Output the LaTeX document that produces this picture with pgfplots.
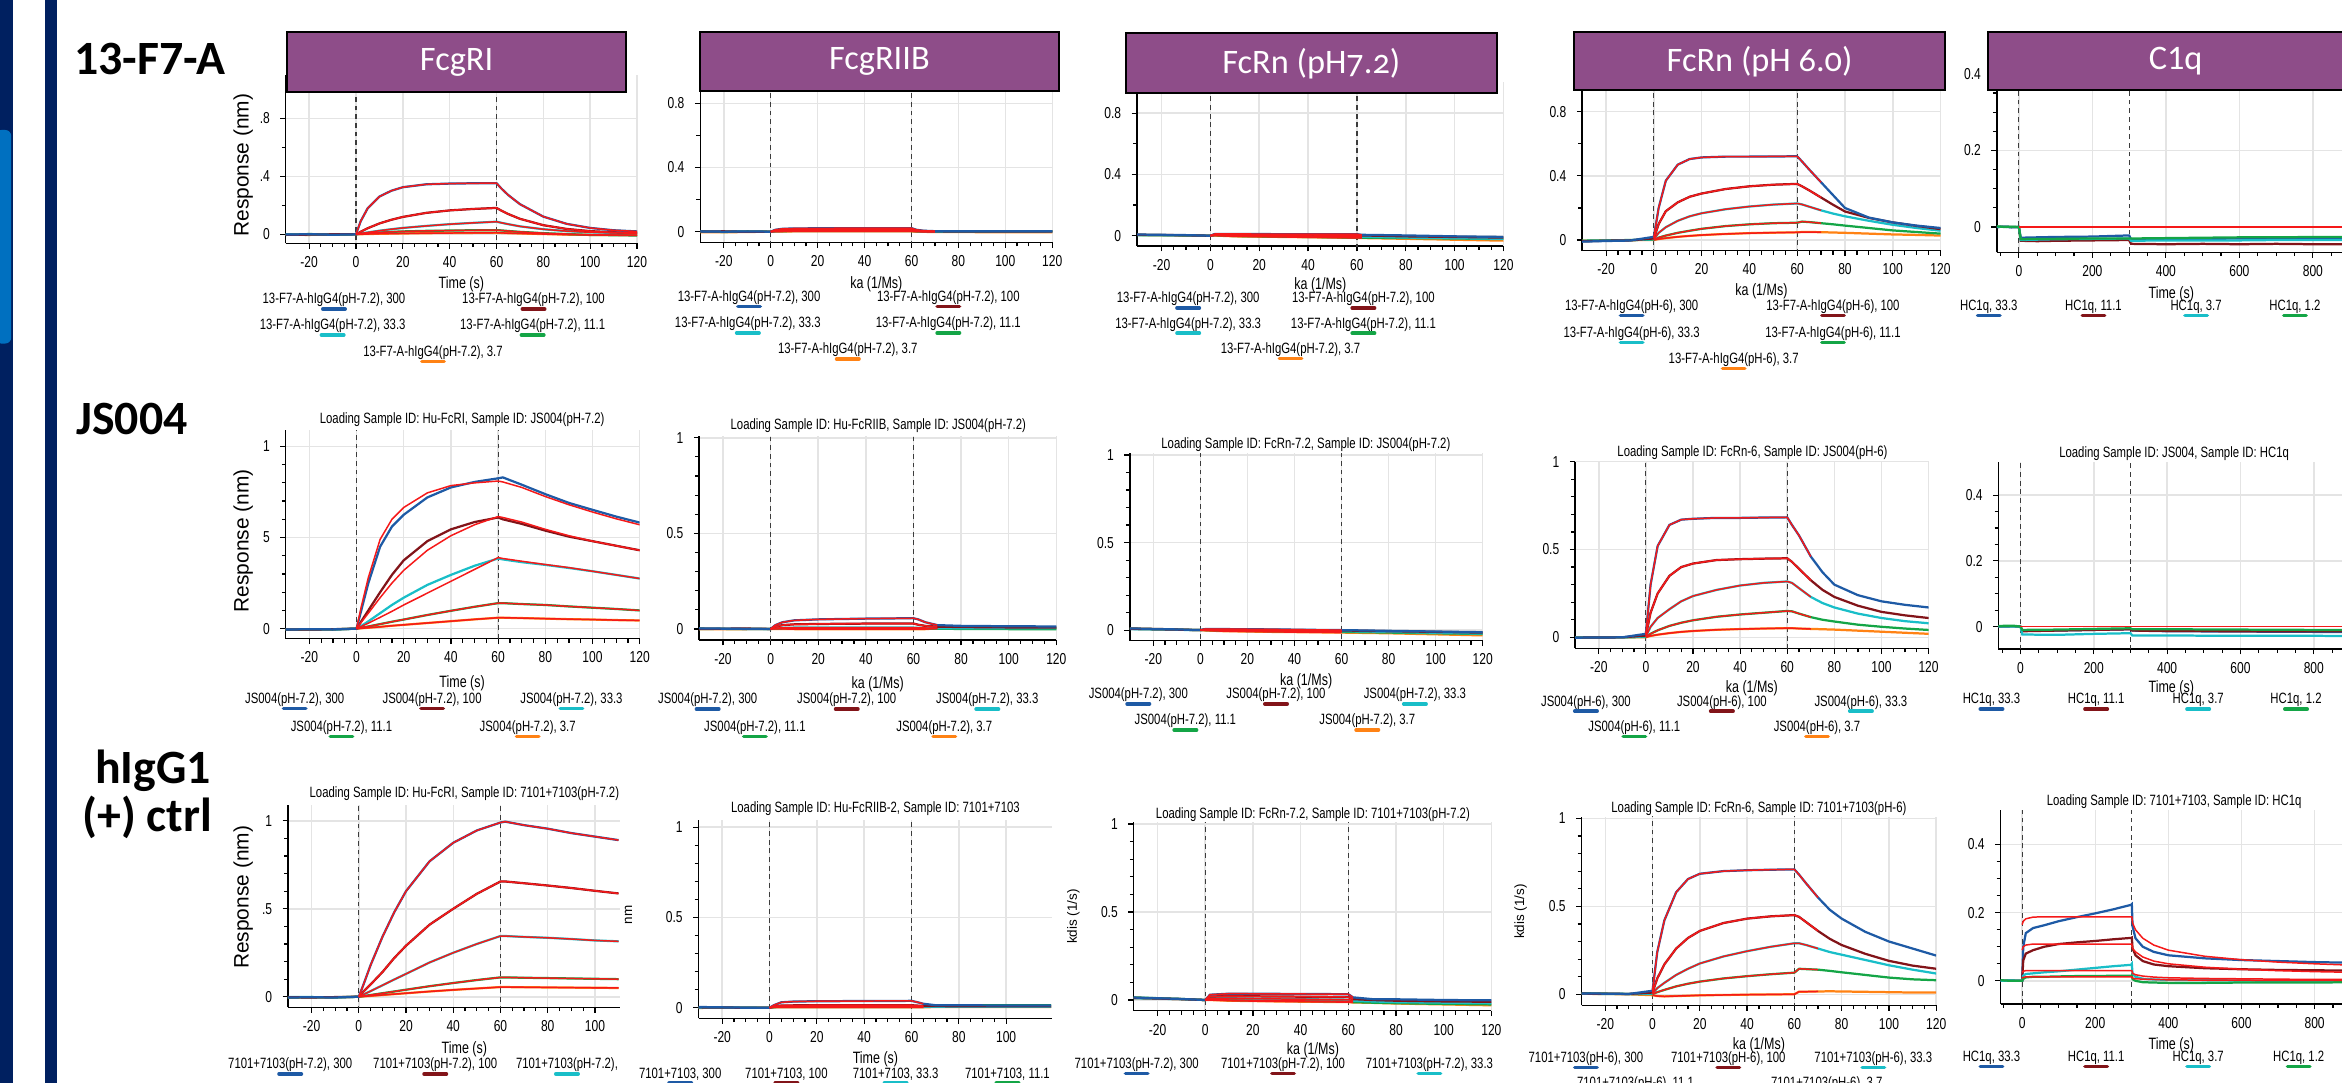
\documentclass[border=0pt]{standalone}
\usepackage{fontspec}
\usepackage{pgfplots}
\usepackage{pgfplotstable}
\pgfplotsset{compat=1.18}
\setmainfont{Liberation Sans}
\newfontfamily\nar[FakeStretch=0.76]{Liberation Sans}
\newfontfamily\carl{Carlito}
\newfontfamily\carlo[Numbers=OldStyle]{Carlito}
\definecolor{sblue}{RGB}{30,90,165}
\definecolor{sdred}{RGB}{130,20,25}
\definecolor{scyan}{RGB}{25,190,200}
\definecolor{sgreen}{RGB}{20,165,70}
\definecolor{sorange}{RGB}{255,130,20}
\definecolor{sfit}{RGB}{245,25,25}
\definecolor{hpurple}{RGB}{142,77,137}
\definecolor{navy}{RGB}{0,32,96}
\definecolor{lblue}{RGB}{0,112,192}
\definecolor{gridg}{RGB}{228,228,228}
\definecolor{dashg}{RGB}{60,60,60}

\pgfplotsset{
  bli/.style={scale only axis, anchor=south west, axis x line*=bottom, axis y line*=left,
    axis line style={black,line width=0.5pt},
    tick align=outside, major tick length=1.8pt, minor tick length=1.3pt,
    tick style={black,line width=0.4pt},
    xmajorgrids, ymajorgrids, grid style={gridg,line width=0.5pt},
    tick label style={font=\nar\fontsize{5.3}{6}\selectfont},
    xticklabel style={yshift=0.9pt},
    /pgf/number format/assume math mode=true,
    /pgf/number format/1000 sep={},
    minor x tick num=3},
  kin/.style={bli, xmin=-30, xmax=120, xtick={-20,0,...,120}},
  kin1/.style={kin, ytick={0,0.4,0.8}, minor y tick num=1},
  kinr/.style={kin, ytick={0,0.5,1}, minor y tick num=4},
  cq/.style={bli, xmin=-60, xmax=1000, xtick={0,200,...,800}, ytick={0,0.2,0.4}, minor y tick num=3, ymax=0.5,
    extra x ticks={-50,850,900,950}, extra x tick labels={}, extra x tick style={grid=none, major tick length=1.3pt}},
  dl/.style={line width=0.75pt, mark=none},
  fl/.style={color=sfit, line width=0.5pt, mark=none},
  dashv/.style={color=dashg, line width=0.4pt, dash pattern=on 1.6pt off 1.3pt, mark=none},
}
\tikzset{
  lgf/.style={font=\nar\fontsize{5}{6}\selectfont, inner sep=0pt},
  xlf/.style={font=\nar\fontsize{5.5}{6.5}\selectfont, inner sep=0pt},
}
\newcommand{\legE}[4]{\node[lgf] at (#1,#2) {#4};
  \draw[#3, line width=1.2pt, line cap=round] ({#1-7.5},{#2+6}) -- ({#1+7.5},{#2+6});}
\newcommand{\hdrbox}[5]{\filldraw[fill=hpurple,draw=black,line width=0.7pt] (#1,#2) rectangle (#3,#4);
  \node[text=white,font=\carl\fontsize{11.5}{13}\selectfont] at ({(#1+#3)/2},{(#2+#4)/2}) {#5};}
\newcommand{\dashes}[2]{\addplot[dashv] coordinates {(#1,-5) (#1,5)};
  \addplot[dashv] coordinates {(#2,-5) (#2,5)};}
\newcommand{\five}[1]{%
  \addplot[sorange,dl] table[x=t,y=e]{#1};
  \addplot[sgreen,dl] table[x=t,y=d]{#1};
  \addplot[scyan,dl] table[x=t,y=c]{#1};
  \addplot[sdred,dl] table[x=t,y=b]{#1};
  \addplot[sblue,dl] table[x=t,y=a]{#1};}
\newcommand{\fivefit}[2]{%
  \addplot[fl,restrict x to domain=0:#2] table[x=t,y=e]{#1};
  \addplot[fl,restrict x to domain=0:#2] table[x=t,y=d]{#1};
  \addplot[fl,restrict x to domain=0:#2] table[x=t,y=c]{#1};
  \addplot[fl,restrict x to domain=0:#2] table[x=t,y=b]{#1};
  \addplot[fl,restrict x to domain=0:#2] table[x=t,y=a]{#1};}
\newcommand{\four}[1]{%
  \addplot[sblue,dl] table[x=t,y=a]{#1};
  \addplot[sdred,dl] table[x=t,y=b]{#1};
  \addplot[scyan,dl] table[x=t,y=c]{#1};
  \addplot[sgreen,dl] table[x=t,y=d]{#1};}

% ---------------- data: row 1 (13-F7-A) ----------------
\pgfplotstableread[row sep=\\]{
t a b c d e\\
-30 -0.002 -0.003 0.000 -0.004 -0.003\\
-20 0.001 -0.002 -0.001 0.002 -0.004\\
-10 -0.003 0.000 0.001 -0.002 -0.001\\
0 0 0 0 0 0\\
2 0.09 0.018 0.006 0.004 0.001\\
5 0.18 0.042 0.013 0.008 0.002\\
10 0.26 0.075 0.025 0.013 0.004\\
15 0.30 0.100 0.035 0.017 0.005\\
20 0.325 0.120 0.044 0.020 0.006\\
30 0.345 0.148 0.058 0.024 0.008\\
40 0.350 0.165 0.070 0.026 0.009\\
50 0.352 0.175 0.079 0.028 0.010\\
60 0.353 0.182 0.087 0.029 0.011\\
62 0.317 0.164 0.080 0.027 0.010\\
65 0.271 0.140 0.070 0.023 0.008\\
70 0.208 0.107 0.055 0.017 0.006\\
80 0.122 0.063 0.035 0.008 0.002\\
90 0.072 0.037 0.022 0.002 -0.002\\
100 0.044 0.022 0.014 -0.004 -0.004\\
110 0.028 0.014 0.010 -0.006 -0.005\\
120 0.020 0.010 0.008 -0.008 -0.005\\
}\TaA
\pgfplotstableread[row sep=\\]{
t a b c d e\\
-30 0.002 0.001 -0.001 0.003 -0.003\\
-20 0.000 0.002 0.002 -0.002 -0.004\\
-10 0.001 -0.001 0.000 0.002 -0.002\\
0 0 0 0 0 0\\
2 0.012 0.008 0.004 0.002 0.001\\
5 0.018 0.012 0.006 0.003 0.001\\
10 0.020 0.014 0.007 0.004 0.002\\
20 0.021 0.015 0.008 0.004 0.002\\
40 0.022 0.016 0.008 0.004 0.002\\
60 0.022 0.016 0.008 0.004 0.002\\
62 0.012 0.008 0.004 0.002 0.000\\
65 0.006 0.004 0.002 0.001 -0.001\\
70 0.003 0.002 0.001 0.000 -0.002\\
90 0.002 0.001 0.001 0.000 -0.003\\
120 0.002 0.001 0.001 0.002 -0.003\\
}\TaB
\pgfplotstableread[row sep=\\]{
t a b c d e\\
-30 0.008 0.006 0.005 0.004 0.006\\
-20 0.006 0.005 0.004 0.003 0.004\\
-10 0.004 0.003 0.003 0.002 0.002\\
0 0 0 0 0 0\\
2 0.012 0.010 0.006 0.003 0.001\\
10 0.012 0.008 0.004 -0.002 -0.004\\
30 0.010 0.006 0.000 -0.006 -0.008\\
50 0.010 0.004 -0.003 -0.010 -0.012\\
60 0.010 0.004 -0.004 -0.012 -0.014\\
62 0.006 0.002 -0.006 -0.013 -0.015\\
80 0.002 -0.004 -0.012 -0.015 -0.020\\
100 -0.004 -0.008 -0.016 -0.018 -0.026\\
120 -0.008 -0.012 -0.020 -0.022 -0.032\\
}\TaC
\pgfplotstableread[row sep=\\]{
t a b c d e\\
-30 -0.010 -0.008 -0.006 -0.004 -0.005\\
-20 -0.006 -0.004 -0.003 -0.002 -0.003\\
-10 -0.003 -0.002 -0.001 0.000 -0.001\\
0 0.02 0.01 0.005 0.003 0.001\\
2 0.20 0.10 0.045 0.015 0.006\\
5 0.37 0.18 0.08 0.028 0.012\\
10 0.47 0.235 0.12 0.045 0.020\\
15 0.505 0.27 0.148 0.058 0.026\\
20 0.515 0.29 0.167 0.070 0.031\\
30 0.52 0.318 0.192 0.087 0.038\\
40 0.52 0.335 0.209 0.098 0.043\\
50 0.521 0.345 0.221 0.105 0.046\\
60 0.522 0.35 0.228 0.108 0.048\\
62 0.49 0.335 0.222 0.115 0.050\\
65 0.44 0.31 0.208 0.112 0.050\\
70 0.36 0.265 0.185 0.105 0.049\\
75 0.28 0.22 0.165 0.098 0.047\\
80 0.20 0.178 0.148 0.090 0.045\\
90 0.14 0.138 0.12 0.075 0.040\\
100 0.11 0.11 0.095 0.060 0.035\\
110 0.09 0.088 0.075 0.050 0.032\\
120 0.075 0.068 0.058 0.040 0.028\\
}\TaD
\pgfplotstableread[row sep=\\]{
t a b c d\\
-60 0.000 0.000 0.000 0.002\\
-40 0.001 0.001 0.001 0.000\\
-20 -0.001 0.000 0.000 0.001\\
0 0 0 0 0\\
5 -0.028 -0.036 -0.034 -0.032\\
50 -0.027 -0.037 -0.033 -0.031\\
100 -0.026 -0.036 -0.032 -0.031\\
200 -0.025 -0.035 -0.031 -0.030\\
300 -0.022 -0.034 -0.030 -0.030\\
305 -0.032 -0.044 -0.036 -0.030\\
400 -0.031 -0.045 -0.035 -0.029\\
500 -0.031 -0.044 -0.035 -0.028\\
600 -0.030 -0.045 -0.035 -0.027\\
700 -0.030 -0.044 -0.034 -0.027\\
800 -0.030 -0.045 -0.034 -0.026\\
1000 -0.030 -0.045 -0.034 -0.026\\
}\TaE
% ---------------- data: row 2 (JS004) ----------------
\pgfplotstableread[row sep=\\]{
t a b c d e fa fb fc\\
-30 -0.005 -0.004 -0.003 -0.006 -0.005 0 0 0\\
-20 -0.003 -0.005 -0.004 -0.003 -0.006 0 0 0\\
-10 -0.004 -0.003 -0.005 -0.004 -0.004 0 0 0\\
0 0 0 0 0 0 0 0 0\\
2 0.10 0.04 0.015 0.005 0.002 0.12 0.035 0.012\\
5 0.25 0.10 0.04 0.012 0.005 0.28 0.085 0.03\\
10 0.45 0.20 0.085 0.025 0.01 0.49 0.17 0.062\\
15 0.56 0.295 0.13 0.038 0.016 0.60 0.25 0.095\\
20 0.625 0.375 0.17 0.05 0.021 0.665 0.32 0.13\\
30 0.72 0.48 0.24 0.075 0.031 0.745 0.43 0.195\\
40 0.775 0.545 0.295 0.098 0.041 0.785 0.51 0.26\\
50 0.805 0.585 0.345 0.12 0.051 0.80 0.57 0.325\\
60 0.825 0.61 0.385 0.14 0.06 0.81 0.615 0.39\\
62 0.83 0.60 0.38 0.14 0.06 0.805 0.61 0.385\\
70 0.79 0.575 0.365 0.135 0.058 0.775 0.585 0.37\\
80 0.738 0.538 0.35 0.13 0.055 0.725 0.545 0.352\\
90 0.69 0.505 0.333 0.122 0.052 0.68 0.51 0.335\\
100 0.652 0.48 0.315 0.115 0.05 0.64 0.48 0.315\\
110 0.615 0.455 0.295 0.108 0.047 0.603 0.455 0.295\\
120 0.582 0.43 0.275 0.10 0.045 0.57 0.43 0.275\\
}\TbA
\pgfplotstableread[row sep=\\]{
t a b c d e\\
-30 0.003 0.001 0.000 0.002 -0.002\\
-10 0.000 0.002 0.001 -0.001 -0.001\\
0 0 0 0 0 0\\
2 0.02 0.012 0.004 0.002 0.000\\
5 0.035 0.02 0.006 0.003 0.000\\
10 0.045 0.024 0.007 0.003 -0.001\\
20 0.05 0.026 0.007 0.004 -0.001\\
40 0.054 0.028 0.007 0.004 -0.001\\
60 0.056 0.028 0.007 0.004 -0.001\\
62 0.05 0.022 0.006 0.003 -0.001\\
65 0.035 0.016 0.005 0.002 -0.001\\
70 0.02 0.012 0.004 0.001 0.003\\
80 0.016 0.010 0.004 0.000 0.004\\
100 0.014 0.008 0.003 -0.001 0.003\\
120 0.013 0.008 0.003 -0.002 0.003\\
}\TbB
\pgfplotstableread[row sep=\\]{
t a b c d e\\
-30 0.01 0.008 0.006 0.008 0.01\\
-10 0.004 0.003 0.002 0.003 0.004\\
0 0 0 0 0 0\\
2 0.006 0.005 0.003 0.000 -0.002\\
10 0.006 0.004 0.000 -0.003 -0.006\\
30 0.004 0.002 -0.003 -0.006 -0.010\\
60 0.000 -0.002 -0.006 -0.010 -0.014\\
80 -0.004 -0.006 -0.010 -0.014 -0.018\\
100 -0.008 -0.010 -0.015 -0.018 -0.024\\
120 -0.012 -0.014 -0.020 -0.022 -0.030\\
}\TbC
\pgfplotstableread[row sep=\\]{
t a b c d e\\
-30 -0.002 -0.002 -0.001 -0.001 -0.002\\
-10 0 0 0 0 0\\
0 0.02 0.01 0.005 0.002 0.001\\
2 0.30 0.14 0.06 0.02 0.008\\
5 0.52 0.25 0.11 0.04 0.015\\
10 0.64 0.35 0.16 0.065 0.024\\
15 0.67 0.40 0.205 0.083 0.031\\
20 0.675 0.42 0.235 0.097 0.036\\
30 0.68 0.44 0.27 0.117 0.043\\
40 0.68 0.445 0.295 0.13 0.047\\
50 0.682 0.448 0.31 0.14 0.05\\
60 0.683 0.45 0.318 0.15 0.052\\
62 0.64 0.43 0.31 0.148 0.052\\
65 0.58 0.39 0.28 0.135 0.05\\
70 0.46 0.325 0.23 0.115 0.048\\
75 0.37 0.27 0.195 0.10 0.046\\
80 0.30 0.23 0.17 0.09 0.044\\
90 0.24 0.18 0.135 0.072 0.038\\
100 0.205 0.145 0.11 0.06 0.032\\
110 0.185 0.125 0.092 0.05 0.026\\
120 0.17 0.11 0.08 0.042 0.02\\
}\TbD
\pgfplotstableread[row sep=\\]{
t a b c d\\
-60 0.000 0.000 0.000 0.002\\
-20 0.001 0.001 0.000 0.003\\
0 0 0 0 0\\
5 -0.012 -0.014 -0.024 -0.010\\
100 -0.012 -0.012 -0.025 -0.009\\
200 -0.010 -0.010 -0.022 -0.007\\
300 -0.008 -0.008 -0.020 -0.005\\
305 -0.012 -0.012 -0.027 -0.008\\
400 -0.014 -0.013 -0.027 -0.008\\
600 -0.015 -0.014 -0.028 -0.009\\
800 -0.016 -0.014 -0.028 -0.010\\
1000 -0.016 -0.015 -0.029 -0.010\\
}\TbE
% ---------------- data: row 3 (7101+7103) ----------------
\pgfplotstableread[row sep=\\]{
t a b c d e\\
-30 -0.004 -0.003 -0.002 -0.005 -0.004\\
-20 -0.003 -0.004 -0.002 -0.002 -0.005\\
-10 -0.004 -0.002 -0.003 -0.004 -0.003\\
0 0 0 0 0 0\\
2 0.07 0.03 0.013 0.004 0.002\\
5 0.18 0.07 0.032 0.01 0.005\\
10 0.34 0.14 0.065 0.02 0.01\\
15 0.48 0.22 0.098 0.03 0.015\\
20 0.60 0.29 0.13 0.04 0.02\\
30 0.77 0.41 0.195 0.06 0.03\\
40 0.875 0.50 0.25 0.078 0.039\\
50 0.945 0.585 0.30 0.095 0.047\\
60 0.99 0.655 0.345 0.11 0.055\\
62 0.995 0.655 0.345 0.11 0.055\\
70 0.975 0.645 0.34 0.108 0.054\\
80 0.955 0.632 0.335 0.106 0.053\\
90 0.93 0.618 0.328 0.104 0.052\\
100 0.91 0.602 0.32 0.102 0.051\\
110 0.89 0.587 0.315 0.10 0.05\\
}\TcA
\pgfplotstableread[row sep=\\]{
t a b c d e\\
-30 0.004 0.002 0.000 0.002 -0.001\\
-10 0 0 0.001 0 0\\
0 0 0 0 0 0\\
2 0.015 0.008 0.005 0.003 0.002\\
5 0.03 0.012 0.007 0.004 0.002\\
10 0.034 0.013 0.008 0.004 0.002\\
20 0.036 0.014 0.008 0.004 0.002\\
40 0.037 0.014 0.008 0.004 0.002\\
60 0.038 0.014 0.008 0.004 0.002\\
62 0.032 0.012 0.007 0.004 0.002\\
65 0.022 0.010 0.006 0.004 0.002\\
70 0.014 0.009 0.006 0.012 0.004\\
90 0.013 0.008 0.006 0.013 0.004\\
119 0.012 0.008 0.006 0.014 0.004\\
}\TcB
\pgfplotstableread[row sep=\\]{
t a b c d e\\
-30 0.014 0.012 0.010 0.015 0.012\\
-10 0.006 0.005 0.005 0.006 0.005\\
0 0 0 0 0 0\\
2 0.03 0.02 0.01 0.004 0.000\\
10 0.036 0.022 0.01 0.000 -0.004\\
30 0.035 0.02 0.006 -0.004 -0.008\\
60 0.033 0.017 0.002 -0.008 -0.012\\
62 0.015 0.005 -0.004 -0.012 -0.014\\
70 0.005 0.000 -0.008 -0.015 -0.016\\
80 0.004 -0.004 -0.012 -0.018 -0.020\\
100 0.000 -0.008 -0.015 -0.022 -0.025\\
120 -0.002 -0.010 -0.018 -0.025 -0.030\\
}\TcC
\pgfplotstableread[row sep=\\]{
t a b c d e\\
-30 0.005 0.004 0.003 0.006 0.003\\
-10 0.002 0.002 0.001 0.002 0.000\\
0 0.02 0.01 0.004 0.002 -0.005\\
2 0.24 0.09 0.035 0.012 -0.010\\
5 0.42 0.17 0.065 0.025 -0.012\\
10 0.58 0.26 0.11 0.045 -0.010\\
15 0.655 0.32 0.145 0.06 -0.008\\
20 0.685 0.36 0.175 0.072 -0.006\\
30 0.70 0.405 0.215 0.09 -0.004\\
40 0.705 0.43 0.245 0.103 -0.002\\
50 0.708 0.443 0.27 0.114 -0.001\\
60 0.71 0.45 0.29 0.123 0.000\\
62 0.68 0.44 0.29 0.145 0.015\\
65 0.63 0.41 0.28 0.143 0.015\\
70 0.55 0.36 0.26 0.14 0.016\\
75 0.48 0.315 0.24 0.133 0.017\\
80 0.43 0.28 0.225 0.125 0.016\\
90 0.355 0.23 0.195 0.11 0.014\\
100 0.30 0.19 0.165 0.095 0.012\\
110 0.26 0.163 0.14 0.085 0.010\\
120 0.22 0.145 0.118 0.08 0.010\\
}\TcD
\pgfplotstableread[row sep=\\]{
t a b c d fa fb fc fd\\
-60 0 0 0 0.002 0 0 0 0\\
-30 0.001 0 0.001 0 0 0 0 0\\
-2 0 0 0 0 0 0 0 0\\
0 0 0 0 0 0.165 0.09 0.025 0.008\\
3 0.10 0.06 0.015 0.006 0.175 0.10 0.028 0.01\\
10 0.14 0.08 0.02 0.01 0.182 0.105 0.03 0.012\\
30 0.155 0.09 0.022 0.012 0.187 0.108 0.03 0.012\\
60 0.163 0.10 0.025 0.012 0.188 0.108 0.03 0.012\\
100 0.175 0.108 0.028 0.013 0.188 0.108 0.03 0.012\\
150 0.187 0.113 0.033 0.014 0.188 0.108 0.03 0.012\\
200 0.198 0.117 0.038 0.014 0.188 0.108 0.03 0.012\\
250 0.21 0.122 0.043 0.015 0.188 0.108 0.03 0.012\\
298 0.223 0.126 0.047 0.015 0.188 0.108 0.03 0.012\\
300 0.225 0.127 0.05 0.015 0.188 0.108 0.03 0.012\\
302 0.16 0.095 0.02 0.005 0.17 0.095 0.022 0.008\\
310 0.125 0.075 0.012 0.000 0.15 0.085 0.018 0.006\\
330 0.10 0.058 0.006 -0.004 0.125 0.07 0.014 0.005\\
360 0.085 0.048 0.004 -0.005 0.105 0.058 0.011 0.004\\
400 0.075 0.043 0.003 -0.006 0.09 0.05 0.009 0.003\\
500 0.066 0.037 0.002 -0.006 0.072 0.04 0.007 0.002\\
600 0.061 0.034 0.001 -0.005 0.062 0.034 0.006 0.002\\
700 0.058 0.032 0.000 -0.005 0.055 0.03 0.005 0.001\\
800 0.055 0.031 0.000 -0.005 0.05 0.027 0.004 0.001\\
900 0.053 0.03 0.000 -0.004 0.046 0.025 0.004 0.001\\
1000 0.051 0.029 0.000 -0.004 0.043 0.023 0.004 0.001\\
}\TcE

\begin{document}
\begin{tikzpicture}[x=0.5pt,y=-0.5pt]
\clip (0,0) rectangle (1568,725);
% left decoration bars
\fill[navy] (0,0) rectangle (8.4,725);
\fill[navy] (29.9,0) rectangle (38.3,725);
\fill[lblue, rounded corners=2pt] (-3,87) rectangle (7.5,230);
% row labels
\node[anchor=base west,inner sep=0pt,font=\carl\bfseries\fontsize{16}{18}\selectfont] at (49.3,50.2) {13-F7-A};
\node[anchor=base west,inner sep=0pt,font=\carl\bfseries\fontsize{16}{18}\selectfont] at (50.8,291.2) {JS004};
\node[anchor=base east,inner sep=0pt,font=\carl\bfseries\fontsize{16}{18}\selectfont] at (141.5,524.5) {hIgG1};
\node[anchor=base east,inner sep=0pt,font=\carl\bfseries\fontsize{16}{18}\selectfont] at (142.5,556.8) {(+) ctrl};

% ================= ROW 1 =================
\begin{axis}[kin1, at={(95.65pt,-81.45pt)}, width=117.6pt, height=56.4pt, ymin=-0.062, ymax=1.1, yticklabels={0,.4,.8}]
\dashes{0}{60}\five{\TaA}\fivefit{\TaA}{120}
\end{axis}
\begin{axis}[kin1, at={(234.45pt,-81.15pt)}, width=117.8pt, height=57.3pt, ymin=-0.067, ymax=1.0]
\dashes{0}{60}\five{\TaB}\fivefit{\TaB}{70}
\end{axis}
\begin{axis}[kin1, at={(380.65pt,-82.35pt)}, width=122.65pt, height=54.75pt, ymin=-0.067, ymax=1.0]
\dashes{0}{60}\five{\TaC}\fivefit{\TaC}{70}
\end{axis}
\begin{axis}[kin1, at={(529.65pt,-83.9pt)}, width=119.95pt, height=57.25pt, ymin=-0.066, ymax=1.0]
\dashes{0}{60}\five{\TaD}\fivefit{\TaD}{70}
\end{axis}
\begin{axis}[cq, at={(668.45pt,-84.45pt)}, width=130.4pt, height=72.5pt, ymin=-0.066]
\dashes{0}{300}\four{\TaE}
\addplot[fl] coordinates {(0,0) (1000,0)};
\end{axis}

% ================= ROW 2 =================
\begin{axis}[kinr, at={(95.65pt,-213.8pt)}, width=118.5pt, height=69.85pt, ymin=-0.055, ymax=1.09, yticklabels={0,5,1}]
\dashes{0}{60}\five{\TbA}
\addplot[fl,restrict x to domain=0:120] table[x=t,y=e]{\TbA};
\addplot[fl,restrict x to domain=0:120] table[x=t,y=d]{\TbA};
\addplot[fl,restrict x to domain=0:120] table[x=t,y=fc]{\TbA};
\addplot[fl,restrict x to domain=0:120] table[x=t,y=fb]{\TbA};
\addplot[fl,restrict x to domain=0:120] table[x=t,y=fa]{\TbA};
\end{axis}
\begin{axis}[kinr, at={(234.05pt,-214.25pt)}, width=119.55pt, height=68.35pt, ymin=-0.058, ymax=1.01]
\dashes{0}{60}\five{\TbB}\fivefit{\TbB}{70}
\end{axis}
\begin{axis}[kinr, at={(378.2pt,-214.45pt)}, width=118.15pt, height=62.7pt, ymin=-0.06, ymax=1.01]
\dashes{0}{60}\five{\TbC}\fivefit{\TbC}{70}
\end{axis}
\begin{axis}[kinr, at={(527.3pt,-217.05pt)}, width=118.3pt, height=62.5pt, ymin=-0.063, ymax=1.0]
\dashes{0}{60}\five{\TbD}\fivefit{\TbD}{70}
\end{axis}
\begin{axis}[cq, at={(669pt,-217.25pt)}, width=130.1pt, height=62.5pt, ymin=-0.068]
\dashes{0}{300}\four{\TbE}
\addplot[fl] coordinates {(0,0) (1000,0)};
\end{axis}

% ================= ROW 3 =================
\begin{axis}[kinr, at={(96.4pt,-337.2pt)}, width=111.05pt, height=67.75pt, xmax=110.5, xtick={-20,0,...,100}, ymin=-0.06, ymax=1.09, yticklabels={0,.5,1}]
\dashes{0}{60}\five{\TcA}\fivefit{\TcA}{120}
\end{axis}
\begin{axis}[kinr, at={(233.85pt,-340.9pt)}, width=118.4pt, height=66.4pt, xmax=119.5, xtick={-20,0,...,100}, ymin=-0.059, ymax=1.04]
\dashes{0}{60}\five{\TcB}\fivefit{\TcB}{68}
\end{axis}
\begin{axis}[kinr, at={(379.5pt,-338.35pt)}, width=119.75pt, height=63.1pt, ymin=-0.061, ymax=1.01]
\dashes{0}{60}\five{\TcC}\fivefit{\TcC}{68}
\end{axis}
\begin{axis}[kinr, at={(529.45pt,-336.55pt)}, width=118.7pt, height=63.2pt, ymin=-0.063, ymax=1.01]
\dashes{0}{60}\five{\TcD}\fivefit{\TcD}{70}
\end{axis}
\begin{axis}[cq, at={(669.7pt,-336.1pt)}, width=129.6pt, height=64.8pt, ymin=-0.068, xmin=-59]
\dashes{0}{300}\four{\TcE}
\addplot[fl,restrict x to domain=0:1000] table[x=t,y=fa]{\TcE};
\addplot[fl,restrict x to domain=0:1000] table[x=t,y=fb]{\TcE};
\addplot[fl,restrict x to domain=0:1000] table[x=t,y=fc]{\TcE};
\addplot[fl,restrict x to domain=0:1000] table[x=t,y=fd]{\TcE};
\end{axis}

% ================= headers =================
\hdrbox{192.2}{21.6}{419.2}{61.4}{FcgRI}
\hdrbox{468.5}{21.6}{709}{60.7}{FcgRIIB}
\filldraw[fill=hpurple,draw=black,line width=0.7pt] (753.7,22.3) rectangle (1002.3,62.5);
\node[text=white,font=\carlo\fontsize{11.5}{13}\selectfont] at (878,42.4) {FcRn (pH7.2)};
\filldraw[fill=hpurple,draw=black,line width=0.7pt] (1053.9,21.4) rectangle (1302.3,60.5);
\node[text=white,font=\carlo\fontsize{11.5}{13}\selectfont] at (1178.1,41) {FcRn (pH 6.0)};
\filldraw[fill=hpurple,draw=black,line width=0.7pt] (1330.7,21.4) rectangle (1620,60.5);
\node[text=white,font=\carl\fontsize{11.5}{13}\selectfont] at (1456.6,41) {C1q};

% ================= y labels =================
\node[rotate=90,font=\fontsize{7}{8}\selectfont] at (162.9,110.5) {Response (nm)};
\node[rotate=90,font=\fontsize{7}{8}\selectfont] at (162.9,362) {Response (nm)};
\node[rotate=90,font=\fontsize{7}{8}\selectfont] at (162.9,600.8) {Response (nm)};
\node[rotate=90,font=\fontsize{4.5}{5}\selectfont] at (420.8,612.6) {nm};
\node[rotate=90,font=\fontsize{4.5}{5}\selectfont] at (718.7,613.7) {kdis (1/s)};
\node[rotate=90,font=\fontsize{4.5}{5}\selectfont] at (1018,610.4) {kdis (1/s)};

% ================= titles =================
\node[lgf] at (309.4,280.8) {Loading Sample ID: Hu-FcRI, Sample ID: JS004(pH-7.2)};
\node[lgf] at (588,285.2) {Loading Sample ID: Hu-FcRIIB, Sample ID: JS004(pH-7.2)};
\node[lgf] at (874.3,297.9) {Loading Sample ID: FcRn-7.2, Sample ID: JS004(pH-7.2)};
\node[lgf] at (1173.3,302.9) {Loading Sample ID: FcRn-6, Sample ID: JS004(pH-6)};
\node[lgf] at (1455.6,304) {Loading Sample ID: JS004, Sample ID: HC1q};
\node[lgf] at (310.9,531.2) {Loading Sample ID: Hu-FcRI, Sample ID: 7101+7103(pH-7.2)};
\node[lgf] at (586.1,541.2) {Loading Sample ID: Hu-FcRIIB-2, Sample ID: 7101+7103};
\node[lgf] at (879,545.7) {Loading Sample ID: FcRn-7.2, Sample ID: 7101+7103(pH-7.2)};
\node[lgf] at (1177.6,541.6) {Loading Sample ID: FcRn-6, Sample ID: 7101+7103(pH-6)};
\node[lgf] at (1455.6,536.7) {Loading Sample ID: 7101+7103, Sample ID: HC1q};

% ================= x labels =================
\node[xlf] at (308.9,190.5) {Time (s)};
\node[xlf] at (586.7,190) {ka (1/Ms)};
\node[xlf] at (884,191.2) {ka (1/Ms)};
\node[xlf] at (1179.3,195.2) {ka (1/Ms)};
\node[xlf] at (1453.7,196.7) {Time (s)};
\node[xlf] at (309.4,457.2) {Time (s)};
\node[xlf] at (587.6,458.3) {ka (1/Ms)};
\node[xlf] at (874.5,456.1) {ka (1/Ms)};
\node[xlf] at (1172.9,461) {ka (1/Ms)};
\node[xlf] at (1453.7,460.5) {Time (s)};
\node[xlf] at (310.9,702.7) {Time (s)};
\node[xlf] at (586.1,708.9) {Time (s)};
\node[xlf] at (879,703.3) {ka (1/Ms)};
\node[xlf] at (1177.6,699.8) {ka (1/Ms)};
\node[xlf] at (1453.7,699.8) {Time (s)};

% ================= legends row 1 =================
\legE{223.6}{200.9}{sblue}{13-F7-A-hIgG4(pH-7.2), 300}
\legE{357.2}{200.9}{sdred}{13-F7-A-hIgG4(pH-7.2), 100}
\legE{222.7}{218.3}{scyan}{13-F7-A-hIgG4(pH-7.2), 33.3}
\legE{356.6}{218.3}{sgreen}{13-F7-A-hIgG4(pH-7.2), 11.1}
\legE{289.9}{235.9}{sorange}{13-F7-A-hIgG4(pH-7.2), 3.7}
\legE{501.5}{199.3}{sblue}{13-F7-A-hIgG4(pH-7.2), 300}
\legE{634.9}{199.3}{sdred}{13-F7-A-hIgG4(pH-7.2), 100}
\legE{500.7}{216.9}{scyan}{13-F7-A-hIgG4(pH-7.2), 33.3}
\legE{634.9}{216.9}{sgreen}{13-F7-A-hIgG4(pH-7.2), 11.1}
\legE{567.6}{234.3}{sorange}{13-F7-A-hIgG4(pH-7.2), 3.7}
\legE{795.5}{200.2}{sblue}{13-F7-A-hIgG4(pH-7.2), 300}
\legE{912.8}{200.2}{sdred}{13-F7-A-hIgG4(pH-7.2), 100}
\legE{795.5}{217.1}{scyan}{13-F7-A-hIgG4(pH-7.2), 33.3}
\legE{912.8}{217.1}{sgreen}{13-F7-A-hIgG4(pH-7.2), 11.1}
\legE{864}{233.9}{sorange}{13-F7-A-hIgG4(pH-7.2), 3.7}
\legE{1092.4}{205.3}{sblue}{13-F7-A-hIgG4(pH-6), 300}
\legE{1227.2}{205.3}{sdred}{13-F7-A-hIgG4(pH-6), 100}
\legE{1092.4}{223.2}{scyan}{13-F7-A-hIgG4(pH-6), 33.3}
\legE{1227.2}{223.2}{sgreen}{13-F7-A-hIgG4(pH-6), 11.1}
\legE{1160.7}{240.6}{sorange}{13-F7-A-hIgG4(pH-6), 3.7}
\legE{1331.5}{205.3}{sblue}{HC1q, 33.3}
\legE{1401.6}{205.3}{sdred}{HC1q, 11.1}
\legE{1470.3}{205.3}{scyan}{HC1q, 3.7}
\legE{1536.5}{205.3}{sgreen}{HC1q, 1.2}
% ================= legends row 2 =================
\legE{197.3}{468.2}{sblue}{JS004(pH-7.2), 300}
\legE{289.3}{468.2}{sdred}{JS004(pH-7.2), 100}
\legE{382.6}{468.2}{scyan}{JS004(pH-7.2), 33.3}
\legE{228.6}{487.2}{sgreen}{JS004(pH-7.2), 11.1}
\legE{353.3}{487.2}{sorange}{JS004(pH-7.2), 3.7}
\legE{473.8}{468.7}{sblue}{JS004(pH-7.2), 300}
\legE{566.9}{468.7}{sdred}{JS004(pH-7.2), 100}
\legE{661}{468.7}{scyan}{JS004(pH-7.2), 33.3}
\legE{505.4}{487.2}{sgreen}{JS004(pH-7.2), 11.1}
\legE{632.2}{487.2}{sorange}{JS004(pH-7.2), 3.7}
\legE{762.1}{465.3}{sblue}{JS004(pH-7.2), 300}
\legE{854.3}{465.3}{sdred}{JS004(pH-7.2), 100}
\legE{947.3}{465.3}{scyan}{JS004(pH-7.2), 33.3}
\legE{793.6}{482.7}{sgreen}{JS004(pH-7.2), 11.1}
\legE{915.4}{482.7}{sorange}{JS004(pH-7.2), 3.7}
\legE{1061.8}{470.2}{sblue}{JS004(pH-6), 300}
\legE{1152.8}{470.2}{sdred}{JS004(pH-6), 100}
\legE{1245.9}{470.2}{scyan}{JS004(pH-6), 33.3}
\legE{1094.2}{487.2}{sgreen}{JS004(pH-6), 11.1}
\legE{1216.5}{487.2}{sorange}{JS004(pH-6), 3.7}
\legE{1333.3}{468.7}{sblue}{HC1q, 33.3}
\legE{1403.4}{468.7}{sdred}{HC1q, 11.1}
\legE{1471.7}{468.7}{scyan}{HC1q, 3.7}
\legE{1537.2}{468.7}{sgreen}{HC1q, 1.2}
% ================= legends row 3 =================
\legE{194.3}{713}{sblue}{7101+7103(pH-7.2), 300}
\legE{291.4}{713}{sdred}{7101+7103(pH-7.2), 100}
\legE{379.6}{713}{scyan}{7101+7103(pH-7.2),}
\legE{455.4}{719.1}{sblue}{7101+7103, 300}
\legE{526.5}{719.1}{sdred}{7101+7103, 100}
\legE{599.6}{719.1}{scyan}{7101+7103, 33.3}
\legE{674.5}{719.1}{sgreen}{7101+7103, 11.1}
\legE{761}{712.6}{sblue}{7101+7103(pH-7.2), 300}
\legE{859}{712.6}{sdred}{7101+7103(pH-7.2), 100}
\legE{957}{712.6}{scyan}{7101+7103(pH-7.2), 33.3}
\legE{1061.8}{708.6}{sblue}{7101+7103(pH-6), 300}
\legE{1157.1}{708.6}{sdred}{7101+7103(pH-6), 100}
\legE{1254.2}{708.6}{scyan}{7101+7103(pH-6), 33.3}
\legE{1095}{725.5}{sgreen}{7101+7103(pH-6), 11.1}
\legE{1223}{725.5}{sorange}{7101+7103(pH-6), 3.7}
\legE{1333.3}{707.9}{sblue}{HC1q, 33.3}
\legE{1403.4}{707.9}{sdred}{HC1q, 11.1}
\legE{1471.7}{707.9}{scyan}{HC1q, 3.7}
\legE{1539}{707.9}{sgreen}{HC1q, 1.2}
\end{tikzpicture}
\end{document}
